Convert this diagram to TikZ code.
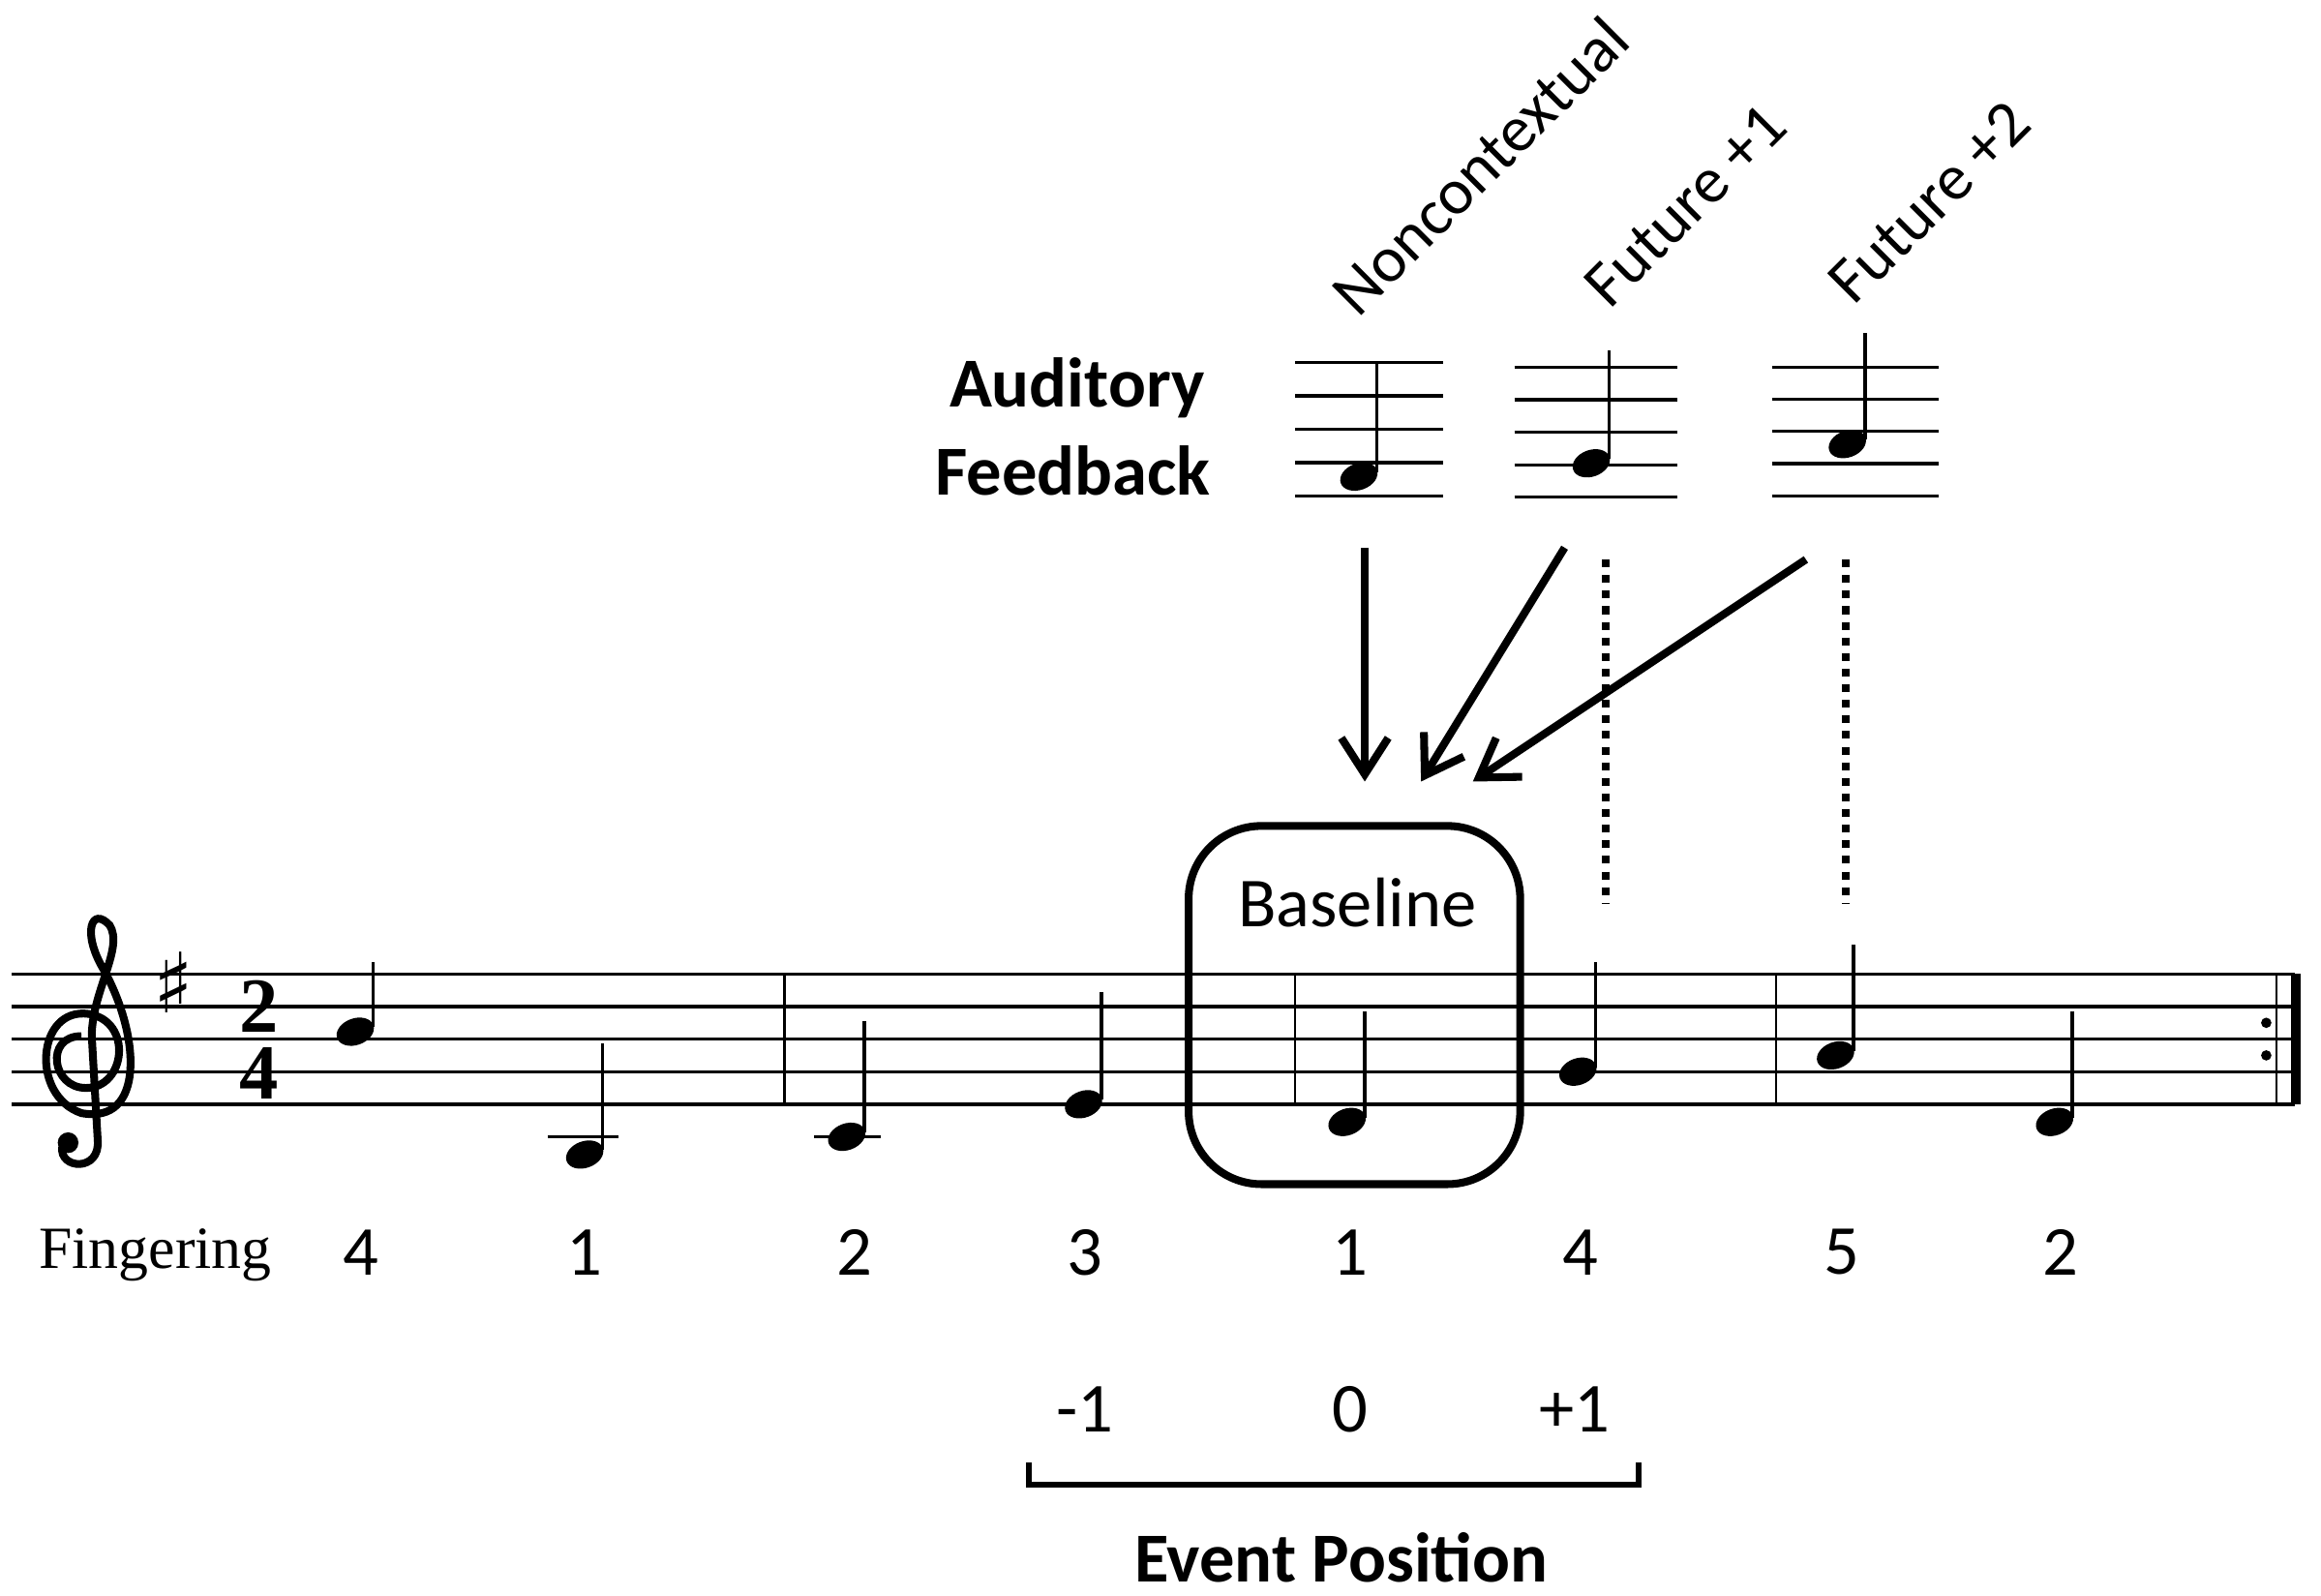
\documentclass[tikz,border=0pt]{standalone}
\usepackage{fontspec}
\setmainfont{Carlito}
\newfontfamily\serif{Liberation Serif}
\newfontfamily\symb{DejaVu Sans}
\usetikzlibrary{arrows.meta,positioning}
\tikzset{
    staffline/.style={line width=1.2pt},
    stem/.style={line width=1.3pt},
    head/.style={fill=black},
    bigarrow/.style={line width=3pt, -{Straight Barb[length=14pt,width=18pt,line width=3pt]}},
    dots/.style={line width=3pt, dash pattern=on 3pt off 3pt},
    lab/.style={font=\fontsize{27}{30}\selectfont},
    rlab/.style={font=\fontsize{25}{28}\selectfont, rotate=45, anchor=south west, inner sep=0},
    blab/.style={font=\bfseries\fontsize{27}{30}\selectfont}
}
% quarter note: head at (#1,#2), stem top at #3
\newcommand{\qnote}[3]{%
    \fill[head] (#1,#2) ellipse [x radius=13, y radius=9, rotate=20];
    \draw[stem] (#1+12,#2-3) -- (#1+12,#3);
}
\begin{document}
\begin{tikzpicture}[x=0.02cm, y=-0.02cm]
    \useasboundingbox (0,0) rectangle (1568,1078);
    % main staff
    \foreach \yy in {658,680,702,724,746}
        \draw[staffline] (8,\yy) -- (1550,\yy);
    \foreach \xx in {530,875,1200,1538}
        \draw[line width=0.8pt] (\xx,658) -- (\xx,746);
    \draw[line width=4pt] (1551,658) -- (1551,746);
    \fill (1531,691) circle (3.5) (1531,713) circle (3.5);
    % clef
    \draw[line width=3pt] (55,700) .. controls (30,700) and (35,735) .. (58,735)
        .. controls (85,735) and (90,690) .. (60,685)
        .. controls (25,680) and (20,740) .. (55,752)
        .. controls (98,760) and (95,700) .. (70,655)
        .. controls (55,630) and (62,612) .. (74,625)
        .. controls (84,640) and (62,670) .. (62,700)
        -- (66,770) .. controls (68,792) and (40,790) .. (42,775);
    \fill (46,772) circle (7);
    \node[font=\symb\fontsize{32}{32}\selectfont] (sharp) at (117,664) {♯};
    \node[font=\serif\bfseries\fontsize{30}{30}\selectfont, inner sep=0] (tsa) at (175,680) {2};
    \node[font=\serif\bfseries\fontsize{30}{30}\selectfont, inner sep=0] (tsb) at (175,725) {4};
    % notes
    \qnote{240}{697}{650}
    \qnote{395}{780}{705}
    \draw[staffline] (370,768) -- (418,768);
    \qnote{572}{768}{690}
    \draw[staffline] (550,768) -- (595,768);
    \qnote{732}{746}{670}
    \qnote{910}{758}{683}
    \qnote{1066}{724}{650}
    \qnote{1240}{713}{638}
    \qnote{1388}{758}{683}
    % baseline box
    \draw[line width=3pt, rounded corners=28] (803,558) rectangle (1027,800);
    \node[lab] (base) at (917,610) {Baseline};
    % fingering
    \node[font=\serif\fontsize{23}{28}\selectfont] (fing) at (105,848) {Fingering};
    \foreach \xx/\ff in {244/4,395/1,577/2,733/3,912/1,1068/4,1244/5,1392/2}
        \node[lab] (f\xx) at (\xx,846) {\ff};
    % event position
    \node[lab] (em) at (733,952) {-1};
    \node[lab] (e0) at (912,952) {0};
    \node[lab] (ep) at (1064,952) {+1};
    \draw[line width=2.5pt] (695,988) -- (695,1003) -- (1107,1003) -- (1107,988);
    \node[blab] (evpos) at (906,1052) {Event Position};
    % auditory feedback
    \node[blab, anchor=east] (aud) at (820,262) {Auditory};
    \node[blab, anchor=east] (fb) at (824,318) {Feedback};
    \foreach \xa/\xb/\ya/\yb in {875/975/245/335,1023/1133/248/336,1197/1310/248/335}
        \foreach \k in {0,...,4}
            \draw[staffline] (\xa,{\ya+\k*(\yb-\ya)/4}) -- (\xb,{\ya+\k*(\yb-\ya)/4});
    \qnote{918}{322}{245}
    \qnote{1075}{313}{237}
    \qnote{1248}{300}{225}
    \node[rlab] (nc) at (918,216) {Noncontextual};
    \node[rlab] (fa) at (1088,210) {Future +1};
    \node[rlab] (fc) at (1253,208) {Future +2};
    % arrows
    \coordinate (s0) at (922,370);
    \coordinate (t0) at (922,528);
    \coordinate (s1) at (1057,370);
    \coordinate (t1) at (960,528);
    \coordinate (s2) at (1220,378);
    \coordinate (t2) at (995,528);
    \draw[bigarrow] (s0) -- (t0);
    \draw[bigarrow] (s1) -- (t1);
    \draw[bigarrow] (s2) -- (t2);
    \coordinate (d1a) at (1085,378);
    \coordinate (d1b) at (1085,610);
    \coordinate (d2a) at (1247,378);
    \coordinate (d2b) at (1247,610);
    \draw[dots] (d1a) -- (d1b);
    \draw[dots] (d2a) -- (d2b);
\end{tikzpicture}
\end{document}
